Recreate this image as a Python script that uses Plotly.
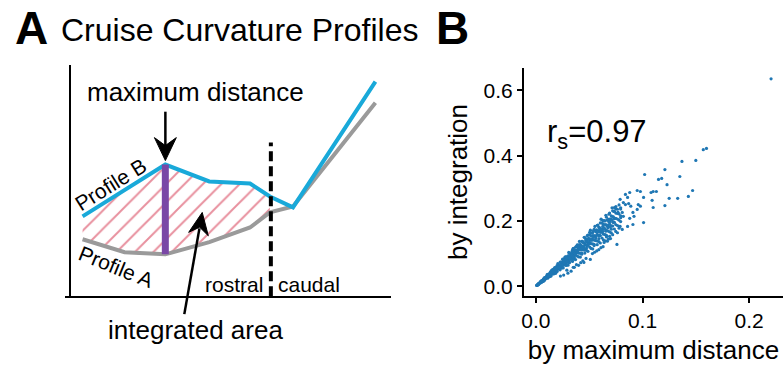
import plotly.graph_objects as go

W, H = 783, 366
def px(x):
    return x / W
def py(y):
    return 1 - y / H

FONT = "Liberation Sans, Arial, sans-serif"

# ---------------- Panel A: schematic profiles ----------------
prof_x = [0.40, 1.71, 2.98, 4.35, 5.62, 6.24, 6.96, 9.53]
prof_b = [3.45, 4.58, 5.69, 4.96, 4.87, 4.31, 3.84, 9.27]   # Profile B (blue)
prof_a = [2.46, 1.90, 1.81, 2.34, 2.97, 3.62, 3.88, 8.36]   # Profile A (gray)
n_hatch = 6            # hatched (rostral) part: first points up to divider
max_idx = 2            # index of maximum distance
divider_x = 6.27
divider_top = 6.64

# ---------------- Panel B: scatter (values read/estimated from the picture) ----------------
cloud_x = [0.0010, 0.0024, 0.0041, 0.0053, 0.0069, 0.0082, 0.0098, 0.0111, 0.0127, 0.0140,
           0.0156, 0.0169, 0.0185, 0.0198, 0.0214, 0.0227, 0.0243, 0.0256, 0.0272, 0.0285,
           0.0301, 0.0314, 0.0330, 0.0343, 0.0359, 0.0372, 0.0388, 0.0401, 0.0417, 0.0430,
           0.0446, 0.0459, 0.0475, 0.0488, 0.0504, 0.0517, 0.0533, 0.0546, 0.0562, 0.0575,
           0.0591, 0.0604, 0.0620, 0.0633, 0.0649, 0.0662, 0.0678, 0.0691, 0.0707, 0.0720,
           0.0736, 0.0749, 0.0765, 0.0780, 0.0795]
cloud_y = [
    [0.0026, 0.0031, 0.0023, 0.0029, 0.0025], [0.0077, 0.0066, 0.0053, 0.0071, 0.0061],
    [0.0128, 0.0098, 0.0115, 0.0109, 0.0134], [0.0119, 0.0158, 0.0134, 0.0147, 0.0167],
    [0.0168, 0.0186, 0.0148, 0.0201, 0.0213], [0.0193, 0.0233, 0.0212, 0.0262, 0.0187],
    [0.0266, 0.0291, 0.0244, 0.0296, 0.0259], [0.0245, 0.0317, 0.0360, 0.0268, 0.0305],
    [0.0333, 0.0387, 0.0293, 0.0366, 0.0314], [0.0449, 0.0382, 0.0307, 0.0413, 0.0358],
    [0.0487, 0.0371, 0.0438, 0.0415, 0.0510], [0.0379, 0.0505, 0.0426, 0.0468, 0.0534],
    [0.0450, 0.0498, 0.0396, 0.0538, 0.0570], [0.0465, 0.0562, 0.0513, 0.0632, 0.0451],
    [0.0580, 0.0636, 0.0533, 0.0646, 0.0565], [0.0502, 0.0649, 0.0735, 0.0547, 0.0624],
    [0.0637, 0.0741, 0.0561, 0.0700, 0.0600], [0.0822, 0.0699, 0.0561, 0.0755, 0.0655],
    [0.0849, 0.0647, 0.0764, 0.0724, 0.0889], [0.0638, 0.0852, 0.0718, 0.0789, 0.0901],
    [0.0731, 0.0810, 0.0644, 0.0876, 0.0927], [0.0738, 0.0892, 0.0813, 0.1002, 0.0716],
    [0.0894, 0.0980, 0.0822, 0.0997, 0.0871], [0.0758, 0.0981, 0.1111, 0.0827, 0.0943],
    [0.0941, 0.1095, 0.0829, 0.1034, 0.0887], [0.1194, 0.1016, 0.0815, 0.1097, 0.0952],
    [0.1211, 0.0923, 0.1090, 0.1032, 0.1269], [0.0898, 0.1199, 0.1011, 0.1111, 0.1267],
    [0.1013, 0.1122, 0.0892, 0.1213, 0.1284], [0.1011, 0.1221, 0.1114, 0.1372, 0.0980],
    [0.1209, 0.1325, 0.1111, 0.1347, 0.1177], [0.1014, 0.1313, 0.1487, 0.1106, 0.1262],
    [0.1245, 0.1449, 0.1097, 0.1368, 0.1173], [0.1566, 0.1332, 0.1069, 0.1440, 0.1249],
    [0.1572, 0.1200, 0.1416, 0.1341, 0.1648], [0.1158, 0.1546, 0.1303, 0.1432, 0.1634],
    [0.1295, 0.1434, 0.1141, 0.1551, 0.1642], [0.1283, 0.1551, 0.1414, 0.1742, 0.1245],
    [0.1523, 0.1669, 0.1399, 0.1697, 0.1484], [0.1271, 0.1645, 0.1863, 0.1386, 0.1581],
    [0.1548, 0.1803, 0.1365, 0.1702, 0.1460], [0.1939, 0.1649, 0.1323, 0.1782, 0.1546],
    [0.1934, 0.1476, 0.1742, 0.1649, 0.2027], [0.1418, 0.1893, 0.1595, 0.1753, 0.2000],
    [0.1577, 0.1746, 0.1389, 0.1889, 0.1999], [0.1556, 0.1880, 0.1715, 0.2112, 0.1509],
    [0.1837, 0.2014, 0.1688, 0.2048, 0.1790], [0.1527, 0.1976, 0.2239, 0.1665, 0.1900],
    [0.1852, 0.2156, 0.1633, 0.2036, 0.1746], [0.2311, 0.1966, 0.1577, 0.2124, 0.1843],
    [0.2296, 0.1752, 0.2068, 0.1958, 0.2407], [0.1678, 0.2240, 0.1887, 0.2075, 0.2367],
    [0.1859, 0.2058, 0.1637, 0.2226, 0.2356], [0.1833, 0.2215, 0.2020, 0.2488, 0.1778],
    [0.2154, 0.2361, 0.1980, 0.2401, 0.2099],
]
cloud2_x = [0.0017, 0.0031, 0.0048, 0.0060, 0.0076, 0.0089, 0.0105, 0.0118, 0.0134, 0.0147,
            0.0163, 0.0176, 0.0192, 0.0205, 0.0221, 0.0234, 0.0250, 0.0263, 0.0279, 0.0292,
            0.0308, 0.0321, 0.0337, 0.0350, 0.0366, 0.0379, 0.0395, 0.0408, 0.0424, 0.0437,
            0.0453, 0.0466, 0.0482, 0.0495, 0.0511, 0.0524, 0.0540, 0.0553, 0.0569, 0.0582,
            0.0598, 0.0611, 0.0627, 0.0640, 0.0656, 0.0669, 0.0685, 0.0698, 0.0714, 0.0727]
cloud2_y = [
    [0.0050, 0.0046], [0.0097, 0.0086], [0.0159, 0.0123], [0.0182, 0.0164], [0.0218, 0.0245],
    [0.0232, 0.0263], [0.0353, 0.0297], [0.0345, 0.0316], [0.0421, 0.0374], [0.0487, 0.0378],
    [0.0494, 0.0447], [0.0505, 0.0567], [0.0501, 0.0568], [0.0689, 0.0580], [0.0645, 0.0592],
    [0.0735, 0.0653], [0.0828, 0.0643], [0.0797, 0.0721], [0.0801, 0.0898], [0.0762, 0.0864],
    [0.1035, 0.0872], [0.0937, 0.0860], [0.1058, 0.0940], [0.1159, 0.0900], [0.1109, 0.1003],
    [0.1088, 0.1220], [0.1031, 0.1169], [0.1371, 0.1155], [0.1238, 0.1136], [0.1372, 0.1219],
    [0.1499, 0.1164], [0.1412, 0.1277], [0.1383, 0.1552], [0.1292, 0.1465], [0.1717, 0.1446],
    [0.1530, 0.1404], [0.1696, 0.1507], [0.1830, 0.1421], [0.1724, 0.1559], [0.1670, 0.1874],
    [0.1561, 0.1770], [0.2053, 0.1729], [0.1831, 0.1680], [0.2010, 0.1786], [0.2171, 0.1686],
    [0.2027, 0.1833], [0.1966, 0.2206], [0.1822, 0.2066], [0.2399, 0.2021], [0.2123, 0.1948],
]
low_x = [0.038, 0.042, 0.047, 0.055, 0.059, 0.063, 0.067, 0.070, 0.035, 0.029, 0.044, 0.053,
         0.057, 0.061]
low_y = [0.066, 0.072, 0.085, 0.104, 0.112, 0.121, 0.138, 0.146, 0.058, 0.049, 0.078, 0.100,
         0.108, 0.118]
sparse_x = [0.157, 0.160, 0.150, 0.137, 0.102, 0.121, 0.115, 0.118, 0.135, 0.123,
            0.147, 0.143, 0.125, 0.133, 0.108, 0.110, 0.113, 0.095, 0.098, 0.088,
            0.101, 0.109, 0.121, 0.110, 0.101, 0.084, 0.086, 0.079, 0.082, 0.084,
            0.087, 0.089, 0.096, 0.098, 0.095, 0.091, 0.092, 0.088, 0.091, 0.086,
            0.075, 0.073, 0.077, 0.081, 0.082, 0.079, 0.081, 0.076, 0.068, 0.064,
            0.051, 0.045, 0.040, 0.036, 0.033, 0.030, 0.026, 0.023]
sparse_y = [0.418, 0.422, 0.385, 0.382, 0.342, 0.357, 0.327, 0.330, 0.336, 0.311,
            0.293, 0.275, 0.269, 0.269, 0.287, 0.290, 0.290, 0.293, 0.290, 0.287,
            0.272, 0.263, 0.247, 0.241, 0.195, 0.281, 0.272, 0.266, 0.256, 0.250,
            0.253, 0.245, 0.250, 0.245, 0.235, 0.226, 0.214, 0.208, 0.189, 0.183,
            0.244, 0.229, 0.226, 0.226, 0.214, 0.183, 0.174, 0.128, 0.144, 0.134,
            0.082, 0.073, 0.064, 0.058, 0.046, 0.040, 0.034, 0.031]
outlier_x = [0.2206]
outlier_y = [0.635]

scat_x, scat_y = [], []
for cols_x, cols_y in ((cloud_x, cloud_y), (cloud2_x, cloud2_y)):
    for cx, ys in zip(cols_x, cols_y):
        for yv in ys:
            scat_x.append(cx)
            scat_y.append(yv)
scat_x += low_x + sparse_x + outlier_x
scat_y += low_y + sparse_y + outlier_y

BLUE = "#19a9d9"
GRAY = "#9a9a9a"
PURPLE = "#7a47a6"
PINK = "#e8909e"

fig = go.Figure()

# hatched area between profiles (rostral part)
fig.add_trace(go.Scatter(x=prof_x[:n_hatch], y=prof_a[:n_hatch], mode="lines",
                         line=dict(width=0, color="rgba(0,0,0,0)"),
                         xaxis="x", yaxis="y", hoverinfo="skip"))
fig.add_trace(go.Scatter(x=prof_x[:n_hatch], y=prof_b[:n_hatch], mode="lines",
                         line=dict(width=0, color="rgba(0,0,0,0)"),
                         fill="tonexty", fillcolor="rgba(0,0,0,0)",
                         fillpattern=dict(shape="/", fgcolor=PINK, bgcolor="rgba(0,0,0,0)",
                                          size=13, solidity=0.15, fillmode="replace"),
                         xaxis="x", yaxis="y", hoverinfo="skip"))
# profiles
fig.add_trace(go.Scatter(x=prof_x, y=prof_a, mode="lines", line=dict(color=GRAY, width=4),
                         xaxis="x", yaxis="y", name="Profile A"))
fig.add_trace(go.Scatter(x=prof_x, y=prof_b, mode="lines", line=dict(color=BLUE, width=4),
                         xaxis="x", yaxis="y", name="Profile B"))
# maximum distance bar
fig.add_trace(go.Scatter(x=[prof_x[max_idx], prof_x[max_idx]],
                         y=[prof_a[max_idx], prof_b[max_idx]], mode="lines",
                         line=dict(color=PURPLE, width=7), xaxis="x", yaxis="y"))
# rostral / caudal divider
fig.add_trace(go.Scatter(x=[divider_x, divider_x], y=[0, divider_top], mode="lines",
                         line=dict(color="black", width=4, dash="10px,5px"),
                         xaxis="x", yaxis="y"))

# scatter
fig.add_trace(go.Scatter(x=scat_x, y=scat_y, mode="markers",
                         marker=dict(color="#1f77b4", size=3.2, line=dict(width=0)),
                         xaxis="x2", yaxis="y2"))

x0_a = (62 - 67) / ((389 - 67) / 10)
fig.update_layout(
    width=W, height=H, margin=dict(l=0, r=0, t=0, b=0),
    paper_bgcolor="white", plot_bgcolor="white", showlegend=False,
    font=dict(family=FONT, color="black"),
    xaxis=dict(domain=[px(62), px(389)], range=[x0_a, 10], showline=True, linecolor="black",
               linewidth=2, showticklabels=False, ticks="", showgrid=False, zeroline=False,
               anchor="y"),
    yaxis=dict(domain=[py(297), py(65)], range=[0, 10], showline=True, linecolor="black",
               linewidth=2, showticklabels=False, ticks="", showgrid=False, zeroline=False,
               anchor="free", position=px(67)),
    xaxis2=dict(domain=[px(523), 1], range=[-0.0112, 0.2318], showline=True, linecolor="black",
                linewidth=2, ticks="outside", ticklen=5, tickwidth=2, tickcolor="black",
                tickvals=[0, 0.1, 0.2], tickformat=".1f", tickfont=dict(size=21),
                showgrid=False, zeroline=False, anchor="y2",
                title=dict(text="by maximum distance", font=dict(size=26), standoff=9)),
    yaxis2=dict(domain=[py(297), py(68)], range=[-0.0305, 0.6687], showline=True,
                linecolor="black", linewidth=2, ticks="outside", ticklen=5, tickwidth=2,
                tickcolor="black", tickvals=[0, 0.2, 0.4, 0.6], tickformat=".1f",
                tickfont=dict(size=21), showgrid=False, zeroline=False, anchor="x2",
                title=dict(text="by integration", font=dict(size=26), standoff=8)),
)

ann = []
def txt(t, x, y, size, xanchor="center", yanchor="middle", angle=0, bold=False):
    ann.append(dict(text=(f"<b>{t}</b>" if bold else t), x=px(x), y=py(y), xref="paper",
                    yref="paper", showarrow=False, xanchor=xanchor, yanchor=yanchor,
                    textangle=angle, font=dict(size=size, family=FONT, color="black")))

txt("A", 10, 0, 46, xanchor="left", yanchor="top", bold=True)
txt("Cruise Curvature Profiles", 56, 30, 32, xanchor="left")
txt("B", 433, 0, 46, xanchor="left", yanchor="top", bold=True)
txt("maximum distance", 193, 92, 26)
txt("Profile B", 108, 185, 21, angle=-32)
txt("Profile A", 113, 267, 21, angle=22)
txt("rostral", 263, 285, 21, xanchor="right")
txt("caudal", 274, 285, 21, xanchor="left")
txt("integrated area", 193, 331, 26)
txt("r<sub>s</sub>=0.97", 544, 134, 31, xanchor="left")
fig.update_layout(annotations=ann)

# arrows drawn as shaft + concave arrowhead shapes (pixel positions -> paper)
def path(pts):
    return "M " + " L ".join(f"{px(a):.5f},{py(b):.5f}" for a, b in pts) + " Z"

shapes = [
    dict(type="line", xref="paper", yref="paper", x0=px(163), y0=py(112), x1=px(163), y1=py(148),
         line=dict(color="black", width=2.5)),
    dict(type="path", xref="paper", yref="paper",
         path=path([(163, 161), (152, 138), (163, 146), (174, 138)]),
         fillcolor="black", line=dict(color="black", width=1)),
    dict(type="line", xref="paper", yref="paper", x0=px(182), y0=py(315), x1=px(197.2), y1=py(229),
         line=dict(color="black", width=2.5)),
    dict(type="path", xref="paper", yref="paper",
         path=path([(200, 213), (206.1, 236.4), (197.4, 227.8), (186.4, 233.0)]),
         fillcolor="black", line=dict(color="black", width=1)),
]
fig.update_layout(shapes=shapes)

fig.write_html("out.html")
